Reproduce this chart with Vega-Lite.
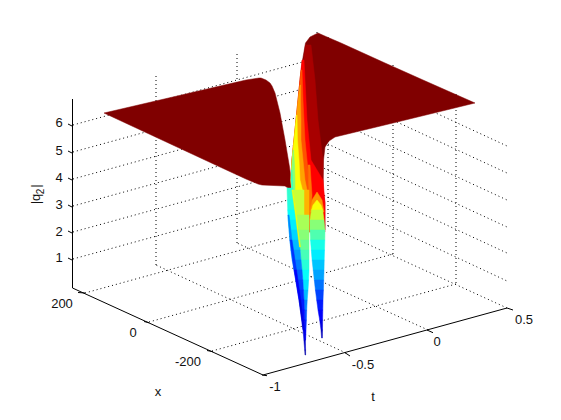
{"$schema":"https://vega.github.io/schema/vega-lite/v6.json","width":561,"height":420,"padding":0,"autosize":{"type":"fit","contains":"padding"},"background":"white","config":{"view":{"stroke":null}},
"datasets":{
"grid":[
{"h":73,"v":125,"h2":317,"v2":58},{"h":73,"v":152,"h2":317,"v2":85},{"h":73,"v":179,"h2":317,"v2":112},{"h":73,"v":206,"h2":317,"v2":139},{"h":73,"v":232,"h2":317,"v2":165},{"h":73,"v":259,"h2":317,"v2":192},
{"h":317,"v":58,"h2":507,"v2":146},{"h":317,"v":85,"h2":507,"v2":173},{"h":317,"v":112,"h2":507,"v2":200},{"h":317,"v":139,"h2":507,"v2":227},{"h":317,"v":165,"h2":507,"v2":253},{"h":317,"v":192,"h2":507,"v2":281},
{"h":156,"v":76,"h2":156,"v2":265},{"h":237,"v":54,"h2":237,"v2":243},{"h":317,"v":32,"h2":317,"v2":221},
{"h":328,"v":37,"h2":328,"v2":226},{"h":393,"v":65,"h2":393,"v2":254},{"h":456,"v":94,"h2":456,"v2":284},
{"h":85,"v":293,"h2":328,"v2":226},{"h":149,"v":322,"h2":393,"v2":254},{"h":212,"v":351,"h2":456,"v2":284},
{"h":346,"v":353,"h2":156,"v2":265},{"h":428,"v":330,"h2":237,"v2":243},{"h":507,"v":308,"h2":317,"v2":221}],
"axes":[
{"h":72.5,"v":99,"h2":72.5,"v2":288},{"h":72.5,"v":288,"h2":263,"v2":375},{"h":263,"v":375,"h2":507,"v2":308},
{"h":68,"v":124,"h2":72,"v2":126},{"h":68,"v":151,"h2":72,"v2":153},{"h":68,"v":178,"h2":72,"v2":180},{"h":68,"v":205,"h2":72,"v2":207},{"h":68,"v":231,"h2":72,"v2":233},{"h":68,"v":258,"h2":72,"v2":260},
{"h":78,"v":292.5,"h2":85,"v2":293},{"h":144,"v":321.5,"h2":149,"v2":322.7},{"h":207,"v":350.5,"h2":213,"v2":351.7},{"h":262,"v":375,"h2":267,"v2":375.7},
{"h":345,"v":352.7,"h2":350,"v2":356},{"h":427,"v":330,"h2":433,"v2":332.7},{"h":507,"v":308,"h2":513,"v2":310}],
"labels":[
{"h":59,"v":123,"label":"6"},{"h":59,"v":151,"label":"5"},{"h":59,"v":178,"label":"4"},{"h":59,"v":205,"label":"3"},{"h":59,"v":232,"label":"2"},{"h":59,"v":258,"label":"1"},
{"h":62,"v":304,"label":"200"},{"h":133,"v":333,"label":"0"},{"h":188,"v":362,"label":"-200"},{"h":158,"v":392,"label":"x"},
{"h":275,"v":387,"label":"-1"},{"h":363,"v":365,"label":"-0.5"},{"h":437,"v":342,"label":"0"},{"h":524,"v":320,"label":"0.5"},{"h":373,"v":397,"label":"t"}],
"zlabel":[{"h":36,"v":199,"label":"|q"},{"h":36,"v":186,"label":"|"}],
"zsub":[{"h":41,"v":191.5,"label":"2"}],
"surface":[
{"p":"PR","z":6.4,"v":33,"a":318,"b":318},{"p":"PR","z":6.4,"v":37,"a":310,"b":327},{"p":"PR","z":6.4,"v":43,"a":305.5,"b":341},{"p":"PR","z":6.4,"v":63,"a":302,"b":385},{"p":"PR","z":6.4,"v":80,"a":300,"b":423},{"p":"PR","z":6.4,"v":103,"a":298,"b":475},{"p":"PR","z":6.4,"v":123,"a":296,"b":393},{"p":"PR","z":6.4,"v":137,"a":294.5,"b":335},{"p":"PR","z":6.4,"v":141,"a":294,"b":329},{"p":"PR","z":6.4,"v":147,"a":293.5,"b":325},{"p":"PR","z":6.4,"v":160,"a":292,"b":323.5},{"p":"PR","z":6.4,"v":190,"a":291,"b":323},{"p":"PR","z":6.4,"v":203,"a":292,"b":325},{"p":"PR","z":6.4,"v":230,"a":310,"b":325},
{"p":"PL","z":6.4,"v":78,"a":259,"b":261},{"p":"PL","z":6.4,"v":80,"a":246,"b":266},{"p":"PL","z":6.4,"v":83,"a":233,"b":270},{"p":"PL","z":6.4,"v":86,"a":220,"b":272},{"p":"PL","z":6.4,"v":93,"a":190,"b":275},{"p":"PL","z":6.4,"v":113,"a":104,"b":280},{"p":"PL","z":6.4,"v":140,"a":162,"b":285},{"p":"PL","z":6.4,"v":167,"a":220,"b":289.5},{"p":"PL","z":6.4,"v":179,"a":246,"b":291},{"p":"PL","z":6.4,"v":184,"a":258,"b":292},{"p":"PL","z":6.4,"v":185,"a":262,"b":292},{"p":"PL","z":6.4,"v":186,"a":285,"b":292},{"p":"PL","z":6.4,"v":190,"a":291,"b":293},
{"p":"W0","z":6.15,"v":45,"a":305.5,"b":311},{"p":"W0","z":6.15,"v":80,"a":301,"b":315},{"p":"W0","z":6.15,"v":120,"a":298,"b":318},{"p":"W0","z":6.15,"v":160,"a":293,"b":323},{"p":"W0","z":6.15,"v":190,"a":291,"b":323},
{"p":"W1","z":5.6,"v":60,"a":302,"b":304},{"p":"W1","z":5.6,"v":80,"a":300,"b":305},{"p":"W1","z":5.6,"v":100,"a":298,"b":306},{"p":"W1","z":5.6,"v":120,"a":296,"b":307},{"p":"W1","z":5.6,"v":140,"a":294,"b":309},{"p":"W1","z":5.6,"v":160,"a":292,"b":311},{"p":"W1","z":5.6,"v":180,"a":290.5,"b":323},{"p":"W1","z":5.6,"v":203,"a":292,"b":325},{"p":"W1","z":5.6,"v":232,"a":305,"b":325},
{"p":"W2","z":5.1,"v":70,"a":301,"b":302},{"p":"W2","z":5.1,"v":100,"a":298,"b":303},{"p":"W2","z":5.1,"v":120,"a":296,"b":304},{"p":"W2","z":5.1,"v":140,"a":294,"b":305},{"p":"W2","z":5.1,"v":160,"a":292,"b":307},{"p":"W2","z":5.1,"v":180,"a":291,"b":309},{"p":"W2","z":5.1,"v":195,"a":292,"b":311},
{"p":"W3","z":4.6,"v":85,"a":300,"b":300.5},{"p":"W3","z":4.6,"v":100,"a":298,"b":300.5},{"p":"W3","z":4.6,"v":120,"a":296,"b":301},{"p":"W3","z":4.6,"v":140,"a":294,"b":301},{"p":"W3","z":4.6,"v":160,"a":292,"b":303},{"p":"W3","z":4.6,"v":180,"a":291,"b":305},{"p":"W3","z":4.6,"v":195,"a":292,"b":308},
{"p":"W4","z":4,"v":115,"a":296.5,"b":297},{"p":"W4","z":4,"v":140,"a":294,"b":297.5},{"p":"W4","z":4,"v":160,"a":292,"b":299},{"p":"W4","z":4,"v":180,"a":291,"b":300},{"p":"W4","z":4,"v":192,"a":292,"b":303},
{"p":"W5","z":3.3,"v":150,"a":293,"b":293.5},{"p":"W5","z":3.3,"v":165,"a":292,"b":294.5},{"p":"W5","z":3.3,"v":180,"a":291,"b":295},{"p":"W5","z":3.3,"v":190,"a":292,"b":295},
{"p":"W6","z":2.8,"v":170,"a":291.5,"b":292},{"p":"W6","z":2.8,"v":180,"a":291,"b":292.5},{"p":"W6","z":2.8,"v":190,"a":292,"b":293},
{"p":"S1","z":4.9,"v":165,"a":308,"b":310},{"p":"S1","z":4.9,"v":195,"a":309,"b":312},{"p":"S1","z":4.9,"v":215,"a":309,"b":311},{"p":"S1","z":4.9,"v":232,"a":309.5,"b":310.5},
{"p":"A1","z":4.7,"v":192,"a":317,"b":317},{"p":"A1","z":4.7,"v":200,"a":312,"b":322},{"p":"A1","z":4.7,"v":212,"a":310,"b":324},
{"p":"R1","z":4,"v":200,"a":317,"b":317},{"p":"R1","z":4,"v":205,"a":313,"b":321},{"p":"R1","z":4,"v":210,"a":311.5,"b":322.7},
{"p":"R2","z":3.7,"v":210,"a":311.5,"b":322.7},{"p":"R2","z":3.7,"v":220,"a":310,"b":324},
{"p":"R3","z":3.3,"v":220,"a":310,"b":324},{"p":"R3","z":3.3,"v":230,"a":310,"b":325},
{"p":"R4","z":2.95,"v":230,"a":310,"b":325},{"p":"R4","z":2.95,"v":240,"a":310.5,"b":324.8},
{"p":"R5","z":2.6,"v":240,"a":310.5,"b":324.8},{"p":"R5","z":2.6,"v":250,"a":311.3,"b":324.5},
{"p":"R6","z":2.35,"v":250,"a":311.3,"b":324.5},{"p":"R6","z":2.35,"v":260,"a":312.1,"b":324.2},
{"p":"R7","z":2.1,"v":260,"a":312.1,"b":324.2},{"p":"R7","z":2.1,"v":270,"a":313.2,"b":324},
{"p":"R8","z":1.9,"v":270,"a":313.2,"b":324},{"p":"R8","z":1.9,"v":280,"a":314.3,"b":323.7},
{"p":"R9","z":1.6,"v":280,"a":314.3,"b":323.7},{"p":"R9","z":1.6,"v":290,"a":315.4,"b":323.4},
{"p":"R10","z":1.3,"v":290,"a":315.4,"b":323.4},{"p":"R10","z":1.3,"v":300,"a":316.7,"b":323},
{"p":"R11","z":1.05,"v":300,"a":316.7,"b":323},{"p":"R11","z":1.05,"v":310,"a":318,"b":322.8},
{"p":"R12","z":0.85,"v":310,"a":318,"b":322.8},{"p":"R12","z":0.85,"v":320,"a":319.7,"b":322.6},
{"p":"R13","z":0.65,"v":320,"a":319.7,"b":322.6},{"p":"R13","z":0.65,"v":330,"a":321,"b":322.5},
{"p":"R14","z":0.4,"v":330,"a":321,"b":322.5},{"p":"R14","z":0.4,"v":338,"a":321.6,"b":322.4},
{"p":"C0","z":4.5,"v":190,"a":304,"b":309},{"p":"C0","z":4.5,"v":215,"a":304,"b":309},
{"p":"C1","z":3.7,"v":190,"a":292.8,"b":304},{"p":"C1","z":3.7,"v":215,"a":296,"b":304},
{"p":"C2","z":3.5,"v":215,"a":296,"b":309},{"p":"C2","z":3.5,"v":230,"a":298.3,"b":309},
{"p":"C3","z":3.3,"v":230,"a":298.3,"b":309},{"p":"C3","z":3.3,"v":240,"a":299.4,"b":309},
{"p":"C4","z":3.1,"v":240,"a":299.4,"b":309},{"p":"C4","z":3.1,"v":250,"a":300.1,"b":309},
{"p":"C5","z":2.9,"v":250,"a":300.1,"b":309},{"p":"C5","z":2.9,"v":260,"a":301,"b":309},
{"p":"C6","z":2.7,"v":260,"a":301,"b":309},{"p":"C6","z":2.7,"v":270,"a":302,"b":309},
{"p":"C7","z":2.5,"v":270,"a":302,"b":309},{"p":"C7","z":2.5,"v":280,"a":302.8,"b":308.6},
{"p":"C8","z":2.3,"v":280,"a":302.8,"b":308.6},{"p":"C8","z":2.3,"v":290,"a":303.4,"b":308},
{"p":"C9","z":2.05,"v":290,"a":303.4,"b":308},{"p":"C9","z":2.05,"v":300,"a":304,"b":307.2},
{"p":"C10","z":1.7,"v":300,"a":304,"b":307.2},{"p":"C10","z":1.7,"v":310,"a":304.4,"b":306.7},
{"p":"C11","z":1.4,"v":310,"a":304.4,"b":306.7},{"p":"C11","z":1.4,"v":320,"a":304.8,"b":306.4},
{"p":"C12","z":1.15,"v":320,"a":304.8,"b":306.4},{"p":"C12","z":1.15,"v":330,"a":305,"b":306},
{"p":"C13","z":0.9,"v":330,"a":305,"b":306},{"p":"C13","z":0.9,"v":340,"a":305,"b":305.6},
{"p":"F1","z":2.75,"v":188,"a":287,"b":292.6},{"p":"F1","z":2.75,"v":200,"a":287.4,"b":294},
{"p":"F2","z":2.65,"v":200,"a":287.4,"b":294},{"p":"F2","z":2.65,"v":210,"a":287.7,"b":295.3},
{"p":"F3","z":2.5,"v":210,"a":287.7,"b":295.3},{"p":"F3","z":2.5,"v":220,"a":288.2,"b":296.8},
{"p":"F4","z":2.35,"v":220,"a":288.2,"b":296.8},{"p":"F4","z":2.35,"v":230,"a":289.1,"b":298.3},
{"p":"F5","z":2.2,"v":230,"a":289.1,"b":298.3},{"p":"F5","z":2.2,"v":240,"a":289.9,"b":299.4},
{"p":"F6","z":2.05,"v":240,"a":289.9,"b":299.4},{"p":"F6","z":2.05,"v":250,"a":290.8,"b":300.1},
{"p":"F7","z":1.85,"v":250,"a":290.8,"b":300.1},{"p":"F7","z":1.85,"v":260,"a":292.1,"b":301},
{"p":"F8","z":1.65,"v":260,"a":292.1,"b":301},{"p":"F8","z":1.65,"v":270,"a":294,"b":302},
{"p":"F9","z":1.45,"v":270,"a":294,"b":302},{"p":"F9","z":1.45,"v":280,"a":295.8,"b":302.8},
{"p":"F10","z":1.3,"v":280,"a":295.8,"b":302.8},{"p":"F10","z":1.3,"v":290,"a":297.4,"b":303.4},
{"p":"F11","z":1.15,"v":290,"a":297.4,"b":303.4},{"p":"F11","z":1.15,"v":300,"a":299,"b":304},
{"p":"F12","z":1.05,"v":300,"a":299,"b":304},{"p":"F12","z":1.05,"v":310,"a":300.4,"b":304.4},
{"p":"F13","z":0.95,"v":310,"a":300.4,"b":304.4},{"p":"F13","z":0.95,"v":320,"a":301.8,"b":304.8},
{"p":"F14","z":0.8,"v":320,"a":301.8,"b":304.8},{"p":"F14","z":0.8,"v":330,"a":303,"b":305},
{"p":"F15","z":0.7,"v":330,"a":303,"b":305},{"p":"F15","z":0.7,"v":340,"a":303.9,"b":305.4},
{"p":"F16","z":0.5,"v":340,"a":303.9,"b":305.4},{"p":"F16","z":0.5,"v":350,"a":304.7,"b":305.6},
{"p":"F17","z":0.3,"v":350,"a":304.7,"b":305.6},{"p":"F17","z":0.3,"v":355,"a":305,"b":305.6},
{"p":"G1","z":1.7,"v":215,"a":287.9,"b":289},{"p":"G1","z":1.7,"v":240,"a":289.9,"b":292},
{"p":"G2","z":1.2,"v":240,"a":289.9,"b":292},{"p":"G2","z":1.2,"v":270,"a":294,"b":296.5},
{"p":"G3","z":0.85,"v":270,"a":294,"b":296.5},{"p":"G3","z":0.85,"v":300,"a":299,"b":300.8},
{"p":"G4","z":0.6,"v":300,"a":299,"b":300.8},{"p":"G4","z":0.6,"v":330,"a":303,"b":303.8},
{"p":"E1","z":4,"v":190,"a":292,"b":293},{"p":"E1","z":4,"v":215,"a":295.5,"b":296.5},{"p":"E1","z":4,"v":247,"a":299.5,"b":300.5}]
},
"layer":[
{"data":{"name":"grid"},"mark":{"type":"rule","color":"black","strokeWidth":1,"strokeDash":[1,3]},"encoding":{"x":{"field":"h","type":"quantitative","scale":{"domain":[0,561],"nice":false,"zero":false},"axis":null},"y":{"field":"v","type":"quantitative","scale":{"domain":[420,0],"nice":false,"zero":false},"axis":null},"x2":{"field":"h2"},"y2":{"field":"v2"}}},
{"data":{"name":"axes"},"mark":{"type":"rule","color":"black","strokeWidth":1},"encoding":{"x":{"field":"h","type":"quantitative","axis":null},"y":{"field":"v","type":"quantitative","axis":null},"x2":{"field":"h2"},"y2":{"field":"v2"}}},
{"data":{"name":"surface"},"mark":{"type":"area","orient":"horizontal","strokeWidth":0.5},"encoding":{"y":{"field":"v","type":"quantitative","axis":null},"x":{"field":"a","type":"quantitative","axis":null},"x2":{"field":"b"},"detail":{"field":"p"},
"color":{"field":"z","type":"quantitative","legend":null,"scale":{"domain":[0.1,0.89,2.46,4.04,5.6,6.4],"range":["#00008f","#0000ff","#00ffff","#ffff00","#ff0000","#800000"],"interpolate":"rgb"}},
"stroke":{"field":"z","type":"quantitative","legend":null,"scale":{"domain":[0.1,0.89,2.46,4.04,5.6,6.4],"range":["#00008f","#0000ff","#00ffff","#ffff00","#ff0000","#800000"],"interpolate":"rgb"}}}},
{"data":{"name":"labels"},"mark":{"type":"text","font":"Liberation Sans","fontSize":13,"align":"center","baseline":"middle","color":"#111"},"encoding":{"x":{"field":"h","type":"quantitative","axis":null},"y":{"field":"v","type":"quantitative","axis":null},"text":{"field":"label"}}},
{"data":{"name":"zlabel"},"mark":{"type":"text","font":"Liberation Sans","fontSize":13,"align":"center","baseline":"middle","angle":270,"color":"#111"},"encoding":{"x":{"field":"h","type":"quantitative","axis":null},"y":{"field":"v","type":"quantitative","axis":null},"text":{"field":"label"}}},
{"data":{"name":"zsub"},"mark":{"type":"text","font":"Liberation Sans","fontSize":10,"align":"center","baseline":"middle","angle":270,"color":"#111"},"encoding":{"x":{"field":"h","type":"quantitative","axis":null},"y":{"field":"v","type":"quantitative","axis":null},"text":{"field":"label"}}}
]}
